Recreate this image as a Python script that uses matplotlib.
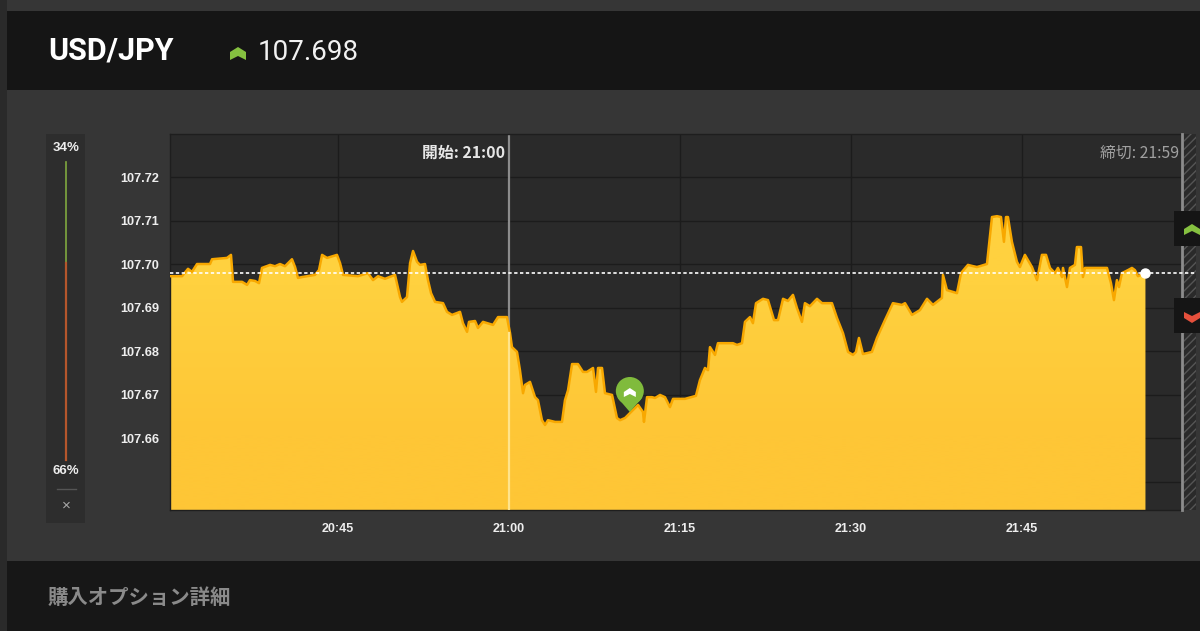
import matplotlib
matplotlib.use('Agg')
import matplotlib.pyplot as plt
from matplotlib.patches import Rectangle, Circle, Polygon
import numpy as np

# minutes relative to 21:00
minutes = [-29.74, -29.21, -28.68, -28.16, -27.81, -27.37, -26.23, -26.05, -24.74, -24.39, -24.21, -23.42,
           -22.98, -22.72, -22.28, -21.93, -21.67, -20.96, -20.53, -20.09, -19.65, -19.04, -18.77, -18.51,
           -18.16, -17.02, -16.67, -16.40, -15.96, -15.09, -14.82, -14.56, -13.25, -12.37, -11.93, -11.49,
           -10.88, -10.00, -9.56, -9.39, -8.95, -8.68, -8.42, -8.07, -7.81, -7.37, -7.11, -6.84,
           -6.49, -5.79, -5.44, -5.00, -4.30, -4.04, -3.68, -3.51, -2.98, -2.72, -2.28, -1.40,
           -0.96, -0.18, 0.09, 0.26, 0.70, 0.96, 1.23, 1.40, 1.84, 2.28, 2.54, 2.89,
           3.16, 3.42, 4.04, 4.65, 4.91, 5.18, 5.53, 6.05, 6.49, 6.84, 7.37, 7.63,
           7.81, 8.16, 8.42, 9.04, 9.47, 9.74, 10.18, 11.32, 11.75, 11.84, 12.11, 12.54,
           12.81, 13.25, 13.68, 14.12, 14.39, 15.44, 16.40, 16.75, 17.19, 17.46, 17.63, 18.07,
           18.33, 19.65, 20.00, 20.44, 20.70, 21.14, 21.40, 21.67, 22.28, 22.72, 23.25, 23.60,
           24.04, 24.47, 24.91, 25.26, 25.70, 25.96, 26.40, 27.02, 27.46, 28.33, 28.77, 29.30,
           29.74, 30.18, 30.44, 30.70, 31.05, 31.84, 32.28, 32.98, 33.68, 34.47, 34.74, 35.35,
           36.05, 36.67, 37.19, 37.98, 38.07, 38.42, 39.30, 39.65, 40.26, 41.05, 41.93, 42.37,
           42.81, 43.16, 43.42, 43.60, 43.77, 44.12, 44.56, 44.82, 45.26, 45.88, 46.32, 46.75,
           47.11, 47.46, 47.89, 48.16, 48.51, 48.60, 48.95, 49.21, 49.65, 49.82, 50.18, 50.35,
           50.53, 52.46, 52.81, 53.07, 53.33, 53.51, 53.77, 54.30, 54.65, 54.91, 55.18, 55.79]
prices = [107.6972, 107.6972, 107.6972, 107.6989, 107.6982, 107.7000, 107.7000, 107.7011, 107.7014, 107.7021, 107.6959, 107.6959,
          107.6952, 107.6963, 107.6961, 107.6956, 107.6991, 107.6998, 107.6995, 107.7000, 107.6995, 107.7011, 107.6993, 107.6968,
          107.6970, 107.6975, 107.6986, 107.7021, 107.7014, 107.7021, 107.7002, 107.6975, 107.6972, 107.6979, 107.6963, 107.6972,
          107.6966, 107.6975, 107.6924, 107.6913, 107.6924, 107.7002, 107.7030, 107.7005, 107.6998, 107.7000, 107.6963, 107.6933,
          107.6913, 107.6910, 107.6890, 107.6883, 107.6890, 107.6864, 107.6844, 107.6867, 107.6869, 107.6853, 107.6867, 107.6860,
          107.6878, 107.6878, 107.6841, 107.6809, 107.6798, 107.6756, 107.6703, 107.6722, 107.6729, 107.6694, 107.6687, 107.6641,
          107.6630, 107.6641, 107.6637, 107.6637, 107.6687, 107.6710, 107.6770, 107.6770, 107.6752, 107.6752, 107.6761, 107.6706,
          107.6761, 107.6761, 107.6703, 107.6699, 107.6646, 107.6641, 107.6646, 107.6676, 107.6660, 107.6637, 107.6694, 107.6694,
          107.6692, 107.6699, 107.6694, 107.6671, 107.6690, 107.6690, 107.6697, 107.6733, 107.6761, 107.6756, 107.6809, 107.6791,
          107.6818, 107.6818, 107.6814, 107.6818, 107.6867, 107.6878, 107.6864, 107.6910, 107.6920, 107.6917, 107.6871, 107.6871,
          107.6920, 107.6915, 107.6929, 107.6899, 107.6867, 107.6910, 107.6903, 107.6920, 107.6910, 107.6910, 107.6876, 107.6841,
          107.6798, 107.6791, 107.6798, 107.6830, 107.6793, 107.6798, 107.6830, 107.6871, 107.6910, 107.6906, 107.6910, 107.6883,
          107.6894, 107.6920, 107.6906, 107.6922, 107.6975, 107.6940, 107.6933, 107.6979, 107.6998, 107.6993, 107.7000, 107.7108,
          107.7110, 107.7108, 107.7051, 107.7108, 107.7108, 107.7051, 107.7005, 107.6993, 107.7021, 107.6993, 107.6963, 107.7021,
          107.7021, 107.6991, 107.6979, 107.6991, 107.6970, 107.6991, 107.6947, 107.6991, 107.6998, 107.7039, 107.7039, 107.6970,
          107.6991, 107.6991, 107.6956, 107.6917, 107.6963, 107.6947, 107.6979, 107.6986, 107.6991, 107.6986, 107.6972, 107.6979]

current_price = 107.698
y_ticks = [107.65, 107.66, 107.67, 107.68, 107.69, 107.70, 107.71, 107.72, 107.73]
y_labels = ['', '107.66', '107.67', '107.68', '107.69', '107.70', '107.71', '107.72', '']
x_ticks = [-15, 0, 15, 30, 45]
x_labels = ['20:45', '21:00', '21:15', '21:30', '21:45']
close_minute = 59
pin_minute = 10.6

W, H = 1200, 631
JP = ['Noto Sans CJK JP', 'DejaVu Sans']
LAT = ['Liberation Sans', 'DejaVu Sans']

fig = plt.figure(figsize=(12, 6.31), dpi=100, facecolor='#363636')

# page furniture, in pixel coordinates
bg = fig.add_axes([0, 0, 1, 1], zorder=0)
bg.set_xlim(0, W)
bg.set_ylim(H, 0)
bg.axis('off')
bg.add_patch(Rectangle((0, 0), W, 11, color='#363636', lw=0))
bg.add_patch(Rectangle((0, 0), 7, H, color='#2a2a2a', lw=0))
bg.add_patch(Rectangle((7, 11), W, 79, color='#151515', lw=0))
bg.add_patch(Rectangle((7, 561), W, 70, color='#171717', lw=0))
bg.add_patch(Rectangle((46, 134), 39, 389, color='#2d2d2d', lw=0))

bg.text(48, 51, 'USD/JPY', family='Roboto', weight='bold', fontsize=22, color='white', va='center')
bg.text(258, 53, '107.698', family='Roboto', fontsize=20, color='#f2f2f2', va='center')
bg.add_patch(Polygon([(230, 52), (238, 47), (246, 52), (246, 60), (238, 56), (230, 60)], color='#85c040', lw=0))
bg.text(48, 597, '購入オプション詳細', family=JP, weight='bold', fontsize=14.7, color='#8a8a8a', va='center')

# sentiment bar
bg.text(66, 148, '34%', family=LAT, weight='bold', fontsize=9.5, color='#eeeeee', ha='center', va='center')
bg.text(66, 471, '66%', family=LAT, weight='bold', fontsize=9.5, color='#eeeeee', ha='center', va='center')
bg.plot([66, 66], [162, 262], color='#7fa83f', lw=1.2)
bg.plot([66, 66], [263, 460], color='#b5562c', lw=1.6)
bg.plot([57, 76], [489, 489], color='#555555', lw=1)
bg.text(66, 506, '×', family=LAT, fontsize=11, color='#aaaaaa', ha='center', va='center')

# closing strip right of the chart
bg.add_patch(Rectangle((1184, 134), 12, 376, facecolor='#2a2a2a', edgecolor='#555555', hatch='////', lw=0))

# price chart
left, right, top, bottom = 170, 1182, 134, 510
ax = fig.add_axes([left / W, 1 - bottom / H, (right - left) / W, (bottom - top) / H], zorder=1)
ax.set_facecolor('#2a2a2a')
ax.set_xlim(-29.74, 59.04)
ax.set_ylim(107.64345, 107.72989)

ax.set_xticks(x_ticks)
ax.set_xticklabels(x_labels, family=LAT, weight='bold', fontsize=9, color='#eeeeee')
ax.set_yticks(y_ticks)
ax.set_yticklabels(y_labels, family=LAT, weight='bold', fontsize=9.2, color='#eeeeee')
ax.tick_params(axis='x', length=0, pad=9)
ax.tick_params(axis='y', length=0, pad=8)
ax.grid(color='#1c1c1c', linewidth=1, zorder=1)
ax.set_axisbelow(True)
for s in ax.spines.values():
    s.set_color('#1e1e1e')
    s.set_linewidth(1)

ax.axvline(0, color='#a8a8a8', lw=1.6, alpha=0.8, zorder=1.5)

area = ax.fill_between(minutes, prices, 107.6, color='#ffc936', lw=0, zorder=2)
gradient = np.array([[255, 209, 63], [254, 198, 54]]) / 255
img = ax.imshow(gradient[:, np.newaxis, :], extent=[-29.74, 59.04, 107.64345, 107.712],
                aspect='auto', origin='upper', interpolation='bilinear', zorder=2.1)
img.set_clip_path(area.get_paths()[0], transform=ax.transData)
ax.set_xlim(-29.74, 59.04)
ax.set_ylim(107.64345, 107.72989)

ax.plot(minutes, prices, color='#f8a800', lw=1.8, solid_joinstyle='round', zorder=3)
# the start line shows pale through the filled area
ax.plot([0, 0], [107.64345, 107.6841], color='#ffe48c', lw=1.6, zorder=3.5)
ax.axvline(close_minute, color='#8c8c8c', lw=2, zorder=4, clip_on=False)
ax.plot([-29.74, 60.2], [current_price, current_price], color='white', lw=1.2, dashes=(2, 1.5), zorder=5, clip_on=False)
ax.plot([minutes[-1]], [current_price], 'o', color='white', ms=6.5, zorder=6)

ax.text(-0.3, 107.7255, '開始: 21:00', family=JP, weight='bold', fontsize=11.4, color='#e6e6e6', ha='right', va='center')
ax.text(58.8, 107.7255, '締切: 21:59', family=JP, fontsize=11.4, color='#a0a0a0', ha='right', va='center')

# overlay: entry pin and the buy tabs
fg = fig.add_axes([0, 0, 1, 1], zorder=2)
fg.set_xlim(0, W)
fg.set_ylim(H, 0)
fg.axis('off')
fg.patch.set_alpha(0)
pin_x = ax.transData.transform((pin_minute, 107.67))[0]
fg.add_patch(Circle((pin_x, 391), 14, color='#80bb3c', lw=0))
fg.add_patch(Polygon([(pin_x - 12, 398), (pin_x + 12, 398), (pin_x, 412)], color='#80bb3c', lw=0))
fg.add_patch(Polygon([(pin_x - 6, 392), (pin_x, 388), (pin_x + 6, 392), (pin_x + 6, 397), (pin_x, 394), (pin_x - 6, 397)],
                     color='white', lw=0))
fg.add_patch(Rectangle((1174, 211), 26, 35, color='#151515', lw=0))
fg.add_patch(Rectangle((1174, 298), 26, 35, color='#151515', lw=0))
fg.add_patch(Polygon([(1184, 229), (1192, 224), (1200, 229), (1200, 235), (1192, 231), (1184, 235)], color='#85c040', lw=0))
fg.add_patch(Polygon([(1184, 312), (1192, 316), (1200, 312), (1200, 318), (1192, 323), (1184, 318)], color='#e5503c', lw=0))

plt.savefig('out.png', dpi=100, facecolor=fig.get_facecolor())
